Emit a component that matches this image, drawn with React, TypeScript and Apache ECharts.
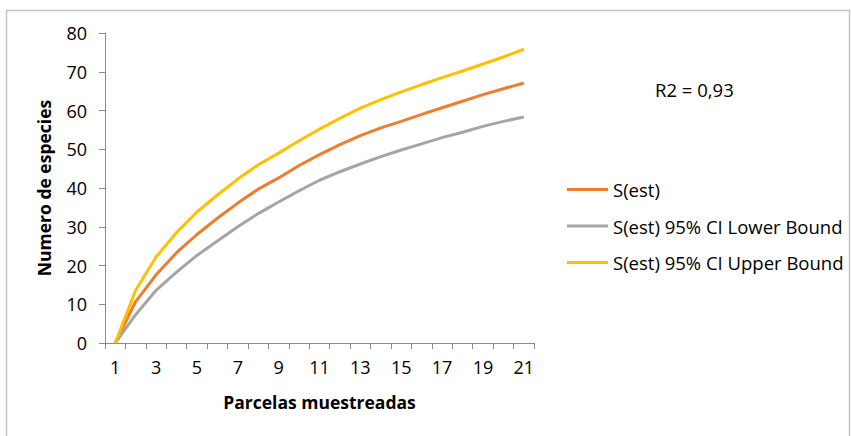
import React, { useEffect, useRef } from "react";
import * as echarts from "echarts";

const categories = ["1","2","3","4","5","6","7","8","9","10","11","12","13","14","15","16","17","18","19","20","21"];
const sEst = [0, 10.7, 17.6, 23.3, 28, 32.2, 36.1, 39.7, 42.6, 45.8, 48.6, 51.2, 53.5, 55.5, 57.2, 59, 60.7, 62.4, 64.1, 65.6, 67.1];
const lowerBound = [0, 7.3, 13.6, 18.3, 22.6, 26.3, 30, 33.4, 36.4, 39.3, 42, 44.2, 46.2, 48.1, 49.8, 51.4, 53, 54.4, 55.9, 57.2, 58.3];
const upperBound = [0, 13.6, 22.2, 28.5, 33.8, 38.2, 42.3, 46, 49, 52.2, 55.2, 58, 60.6, 62.8, 64.8, 66.7, 68.5, 70.2, 72, 73.8, 75.8];
const seriesNames = ["S(est)", "S(est) 95% CI Lower Bound", "S(est) 95% CI Upper Bound"];
const r2Text = "R2 = 0,93";

const FONT = "'Open Sans', 'Liberation Sans', sans-serif";

export default function App() {
  const ref = useRef<HTMLDivElement>(null);
  useEffect(() => {
    if (!ref.current) return;
    const chart = echarts.init(ref.current, undefined, { renderer: "svg" });
    const axisColor = "#8c8c8c";
    chart.setOption({
      animation: false,
      textStyle: { fontFamily: FONT },
      grid: { left: 105, right: 317, top: 33, bottom: 93, containLabel: false },
      graphic: [
        {
          type: "rect",
          shape: { x: 6.5, y: 10.5, width: 843, height: 440 },
          style: { fill: "none", stroke: "#c4c4c4", lineWidth: 1.5 },
          silent: true,
        },
        {
          type: "text",
          left: 655,
          top: 80,
          style: { text: r2Text, fontSize: 18.5, fontFamily: FONT, fill: "#000" },
        },
      ],
      legend: {
        orient: "vertical",
        left: 562,
        top: 175,
        itemWidth: 41,
        itemHeight: 3,
        itemGap: 17.5,
        icon: "rect",
        textStyle: { fontSize: 18.5, fontFamily: FONT, color: "#000" },
        data: seriesNames,
      },
      xAxis: {
        type: "category",
        data: categories,
        boundaryGap: true,
        name: "Parcelas muestreadas",
        nameLocation: "middle",
        nameGap: 50,
        nameTextStyle: { fontSize: 17.5, fontWeight: "bold", color: "#000", fontFamily: FONT },
        axisLine: { lineStyle: { color: axisColor, width: 1 } },
        axisTick: { show: true, interval: 0, length: 6, lineStyle: { color: axisColor } },
        axisLabel: { interval: 1, fontSize: 18, color: "#000", margin: 15, fontFamily: FONT },
        splitLine: { show: false },
      },
      yAxis: {
        type: "value",
        min: 0,
        max: 80,
        interval: 10,
        name: "Numero de especies",
        nameLocation: "middle",
        nameGap: 52,
        nameTextStyle: { fontSize: 17.5, fontWeight: "bold", color: "#000", fontFamily: FONT },
        axisLine: { show: true, lineStyle: { color: axisColor, width: 1 } },
        axisTick: { show: true, length: 6, lineStyle: { color: axisColor } },
        axisLabel: { fontSize: 18, color: "#000", margin: 18, fontFamily: FONT },
        splitLine: { show: false },
      },
      series: [
        { name: seriesNames[0], type: "line", data: sEst, showSymbol: false, symbol: "none", lineStyle: { width: 3, color: "#ED7D31" }, itemStyle: { color: "#ED7D31" } },
        { name: seriesNames[1], type: "line", data: lowerBound, showSymbol: false, symbol: "none", lineStyle: { width: 3, color: "#A5A5A5" }, itemStyle: { color: "#A5A5A5" } },
        { name: seriesNames[2], type: "line", data: upperBound, showSymbol: false, symbol: "none", lineStyle: { width: 3, color: "#FFC000" }, itemStyle: { color: "#FFC000" } },
      ],
    });
    return () => chart.dispose();
  }, []);
  return <div ref={ref} style={{ position: "absolute", left: 0, top: 0, width: 851, height: 436, background: "#fff" }} />;
}
